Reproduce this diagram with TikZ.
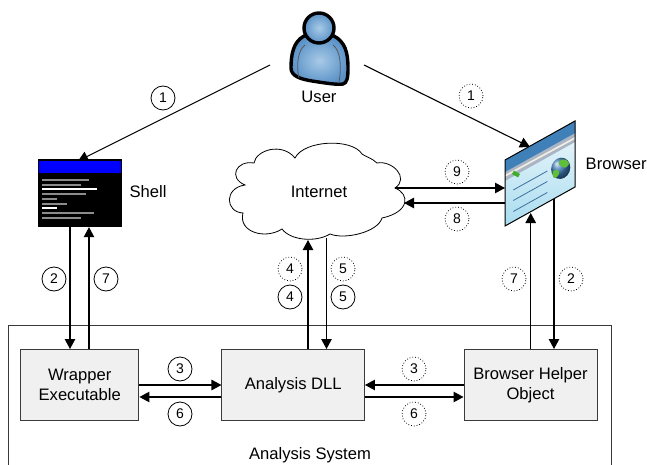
\documentclass[tikz,border=0pt]{standalone}
\usepackage{fontspec}
\setmainfont{Liberation Sans}
\usetikzlibrary{arrows.meta,calc}
\definecolor{boxfill}{HTML}{F0F0F0}
\definecolor{boxline}{HTML}{3A3A3A}
\definecolor{brgrey}{HTML}{A9B4C4}
\definecolor{brblue}{HTML}{3F80B8}
\definecolor{brcream}{HTML}{F0EDE2}
\definecolor{brgreen}{HTML}{3FAE2A}
\definecolor{brline}{HTML}{3E6F9E}
\definecolor{globegreen}{HTML}{5FBE3A}
\definecolor{brtop}{HTML}{EAF6FB}
\definecolor{brbot}{HTML}{A8DCEF}
\definecolor{globe}{HTML}{3C78B4}
\definecolor{skinin}{HTML}{A8CAE6}
\definecolor{skinout}{HTML}{5A92C8}
\tikzset{
  lbl/.style={font=\fontsize{16.6}{19}\selectfont,inner sep=0pt,align=center},
  sysbox/.style={draw=boxline,fill=boxfill,line width=1pt,inner sep=0pt,align=center,minimum height=71pt,font=\fontsize{16.6}{19.6}\selectfont},
  arr/.style={line width=1.1pt,-{Triangle[length=10pt,width=10.5pt]}},
  numA/.style={circle,draw=black,line width=0.8pt,minimum size=24pt,inner sep=0pt,font=\fontsize{14}{16}\selectfont},
  numB/.style={numA,dotted,line width=0.8pt},
  txtline/.style={line width=1.3pt},
  person/.style={draw=black,line width=3.4pt,inner color=skinin,outer color=skinout}
}
\begin{document}
\begin{tikzpicture}[x=1pt,y=-1pt]
\useasboundingbox (0,0) rectangle (647,465);
% analysis system frame (runs off the bottom)
\begin{scope}
\clip (0,0) rectangle (647,465);
\draw[boxline,line width=1pt] (8.5,480) -- (8.5,325.7) -- (611,325.7) -- (611,480);
\end{scope}
\node[lbl] (system) at (310,455) {Analysis System};
% boxes
\node[sysbox,minimum width=118.5pt] (wrap) at (79.7,385) {Wrapper\\Executable};
\node[sysbox,minimum width=142.5pt] (dll) at (293.2,385) {Analysis DLL};
\node[sysbox,minimum width=133pt] (bho) at (530.5,385) {Browser Helper\\Object};
% icons as anchors
\node[minimum width=84pt,minimum height=68pt,inner sep=0pt] (shell) at (80,193) {};
\coordinate (ushell) at (270,65);
\coordinate (ubrowser) at (364,65);
\coordinate (shellarrow) at (78,161);
\coordinate (browserarrow) at (530,147);
\coordinate (cloudout) at (395,188);
\coordinate (cloudin) at (404,203);
\coordinate (cloudup) at (308,240);
\coordinate (clouddown) at (326.5,238);
\coordinate (brup) at (530.7,213);
\coordinate (brdown) at (554,199);
\coordinate (brin) at (505,188);
\coordinate (brout) at (505,203);
\coordinate (sx) at (70,0);
\coordinate (wx) at (89,0);
% arrows to icons first (icons cover tips)
\draw[arr] (ushell) -- (shellarrow);
\draw[arr] (ubrowser) -- (browserarrow);
% cloud
\draw[fill=white,line width=0.8pt]
 (254,163) .. controls (256,150) and (282,142) .. (295,158)
 .. controls (304,140) and (352,138) .. (362,154) .. controls (364,156) and (372,158) .. (377,163)
 .. controls (392,160) and (410,178) .. (395,188)
 .. controls (410,194) and (410,212) .. (382,218)
 .. controls (378,232) and (345,240) .. (330,234)
 .. controls (315,243) and (290,240) .. (282,229)
 .. controls (265,240) and (238,232) .. (243,213)
 .. controls (225,212) and (224,188) .. (245,185)
 .. controls (228,178) and (236,160) .. (254,163) -- cycle;
\node[lbl] (internet) at (319,192) {Internet};
% shell icon
\fill[black] (38,159) rectangle (122,227);
\fill[blue] (39,161) rectangle (120.5,173);
\foreach \yy/\xx/\cc in {180/89/gray!90,185/81/gray!90,189/97/white,194/86/gray!90,199/57/gray!90,204/67/gray!90,208/57/white,213/94/gray!90,218/81/gray!90}
  \draw[txtline,\cc] (42,\yy) -- (\xx,\yy);
\node[lbl] (shelllbl) at (148,192) {Shell};
% browser icon
\begin{scope}
\clip (505,160) -- (575,121) -- (575,187) -- (505,226) -- cycle;
\shade[top color=brtop,bottom color=brbot] (500,130) rectangle (580,226);
\fill[brgrey] (505,168) -- (575,129) -- (575,142) -- (505,181) -- cycle;
\fill[brblue] (505,158) -- (575,119) -- (575,133) -- (505,172) -- cycle;
\draw[line width=1.7pt,brcream] (505,176) -- (575,138);
\end{scope}
\fill[brgreen,rotate around={-29:(516,174)}] (512.5,172) rectangle (519.5,176);
\foreach \yy in {190,200.5,211.5}
  \draw[line width=0.8pt,brline] (513.3,\yy) -- (547.3,\yy-19);
\shade[ball color=globe,rotate around={-20:(560.7,168.3)}] (560.7,168.3) ellipse (9.4 and 10.8);
\fill[globegreen] (561,160) .. controls (565,158) and (569,161) .. (569,164) .. controls (566,169) and (564,168) .. (561,166) .. controls (558,165) and (558,162) .. (561,160) -- cycle;
\fill[globegreen] (553,171) .. controls (557,169) and (560,170) .. (559,174) .. controls (558,177) and (556,178) .. (554,178) .. controls (552,175) and (552,173) .. (553,171) -- cycle;
\draw[black,line width=1pt,line join=miter] (505,160) -- (575,121) -- (575,187) -- (505,226) -- cycle;
\node[lbl,anchor=west] (browserlbl) at (585.5,164) {Browser};
% person
\path[person]
 (304,36) .. controls (293,42) and (291,55) .. (291,68) .. controls (291,76) and (300,79) .. (312,81)
 .. controls (325,83) and (337,85) .. (343,84) .. controls (347,83) and (348,78) .. (348,68)
 .. controls (348,52) and (345,42) .. (334,36) -- cycle;
\draw[gray!70!black,line width=0.8pt] (299,78) .. controls (296,65) and (298,50) .. (305,45);
\draw[gray!70!black,line width=0.8pt] (339,82) .. controls (342,65) and (340,50) .. (333,45);
\path[person] (319,28) circle (15);
\node[lbl] (userlbl) at (319,97) {User};
% connectors
\draw[arr] (shell.south -| sx) -- (wrap.north -| sx);
\draw[arr] (wrap.north -| wx) -- (shell.south -| wx);
\draw[arr] (wrap.east) -- (dll.west);
\draw[arr] ([yshift=-12pt]dll.west) -- ([yshift=-12pt]wrap.east);
\draw[arr] (bho.west) -- (dll.east);
\draw[arr] ([yshift=-12pt]dll.east) -- ([yshift=-12pt]bho.west);
\draw[arr] (dll.north -| cloudup) -- (cloudup);
\draw[arr] (clouddown) -- (dll.north -| clouddown);
\draw[arr] (bho.north -| brup) -- (brup);
\draw[arr] (brdown) -- (bho.north -| brdown);
\draw[arr] (cloudout) -- (brin);
\draw[arr] (brout) -- (cloudin);
% numbers
\node[numA] (a1) at (163,98) {1};
\node[numB] (b1) at (471,96) {1};
\node[numA] (a2) at (54,279) {2};
\node[numA] (a7) at (106,279) {7};
\node[numA] (a3) at (180,369) {3};
\node[numA] (a6) at (180,414) {6};
\node[numB] (b3) at (414,369) {3};
\node[numB] (b6) at (414,414) {6};
\node[numB] (b4) at (290,269) {4};
\node[numA] (a4) at (290,297) {4};
\node[numB] (b5) at (343,269) {5};
\node[numA] (a5) at (343,297) {5};
\node[numB] (b7) at (514,279) {7};
\node[numB] (b2) at (571,279) {2};
\node[numB] (b9) at (457,172) {9};
\node[numB] (b8) at (457,219) {8};
\end{tikzpicture}
\end{document}
